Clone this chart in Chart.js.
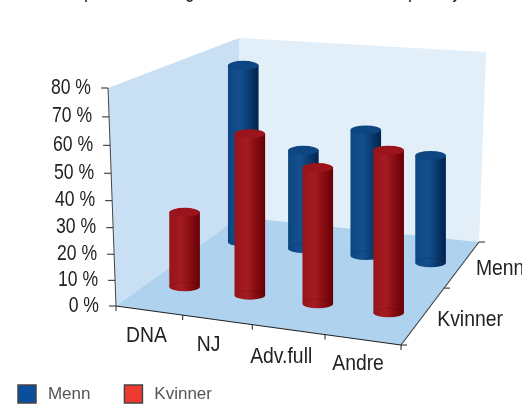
<!DOCTYPE html>
<html>
<head>
<meta charset="utf-8">
<script src="https://cdn.jsdelivr.net/npm/chart.js@4/dist/chart.umd.js"></script>
<style>
body { margin: 0; background: #fff; }
</style>
</head>
<body>
<canvas id="chart" width="522" height="406"></canvas>
<script>
// Data
const categories = ['DNA', 'NJ', 'Adv.full', 'Andre'];
const depthLabels = ['Kvinner', 'Menn'];
const menn = [73, 41, 51, 43];
const kvinner = [29, 60, 50, 58];

const LABEL_FONT = '22px "Liberation Sans", sans-serif';
const LABEL_COLOR = '#222';

// Floor corners on the page: front left, front right, back right, back left
const FLOOR = { A: [116, 306], B: [401, 345], C: [479, 242], D: [239, 217] };
const WALL_TOP = { A: [108, 88], C: [486, 52], D: [239, 38] };
const RADIUS_X = 15.3;
const RADIUS_Y = 4.5;
const FOOT_SHIFT = { x: 1.5, y: 2.5 };
// small hand adjustments of the category labels along the axis
const LABEL_NUDGE = [[3.5, 1], [-2.5, 1], [-1, 3], [1.5, 0]];

// Unit square (u along categories, w into the depth) -> floor
function buildFloorMap() {
    const [x0, y0] = FLOOR.A, [x1, y1] = FLOOR.B, [x2, y2] = FLOOR.C, [x3, y3] = FLOOR.D;
    const dx1 = x1 - x2, dx2 = x3 - x2, sx = x0 - x1 + x2 - x3;
    const dy1 = y1 - y2, dy2 = y3 - y2, sy = y0 - y1 + y2 - y3;
    const den = dx1 * dy2 - dx2 * dy1;
    const g = (sx * dy2 - dx2 * sy) / den;
    const h = (dx1 * sy - sx * dy1) / den;
    return (u, w) => {
        const d = g * u + h * w + 1;
        return {
            x: ((x1 - x0 + g * x1) * u + (x3 - x0 + h * x3) * w + x0) / d,
            y: ((y1 - y0 + g * y1) * u + (y3 - y0 + h * y3) * w + y0) / d,
            scale: 1 / d
        };
    };
}
const floorAt = buildFloorMap();

// The value axis is a little stretched towards the top of the wall
function rise(t) {
    return t / (1.07 - 0.07 * t);
}

function poly(ctx, pts, fill) {
    ctx.beginPath();
    pts.forEach((p, i) => i ? ctx.lineTo(p[0], p[1]) : ctx.moveTo(p[0], p[1]));
    ctx.closePath();
    ctx.fillStyle = fill;
    ctx.fill();
}

function line(ctx, x1, y1, x2, y2, color, width) {
    ctx.beginPath();
    ctx.moveTo(x1, y1);
    ctx.lineTo(x2, y2);
    ctx.strokeStyle = color;
    ctx.lineWidth = width;
    ctx.stroke();
}

// The reference uses a condensed face, so the text is squeezed sideways
function text(ctx, str, x, y, align, narrow) {
    ctx.save();
    ctx.translate(x, y);
    ctx.scale(narrow, 1);
    ctx.font = LABEL_FONT;
    ctx.textAlign = align;
    ctx.textBaseline = 'middle';
    ctx.fillStyle = LABEL_COLOR;
    ctx.fillText(str, 0, 0);
    ctx.restore();
}

// Walls, floor, axis lines and their labels
const framePlugin = {
    id: 'frame',
    beforeDatasetsDraw(chart) {
        const ctx = chart.ctx;
        const xs = chart.scales.x, ys = chart.scales.y;
        const { A, B, C, D } = FLOOR;
        ctx.save();

        // only the bottoms of the cut-off heading are left in the picture
        [['p', 89], ['g', 190], ['p', 413], ['y', 457]].forEach(([ch, x]) => {
            text(ctx, ch, x, -9, 'center', 0.8);
        });

        poly(ctx, [D, WALL_TOP.D, WALL_TOP.C, C], '#e2eff9');
        poly(ctx, [A, WALL_TOP.A, WALL_TOP.D, D], '#c9e0f4');
        poly(ctx, [A, B, C, D], '#afd2ef');

        // value axis on the front left edge
        line(ctx, A[0], A[1], WALL_TOP.A[0], WALL_TOP.A[1], '#444', 1);
        ys.ticks.forEach(tick => {
            const t = tick.value / ys.max;
            const y = A[1] - rise(t) * (A[1] - WALL_TOP.A[1]);
            const x = A[0] + (WALL_TOP.A[0] - A[0]) * rise(t);
            line(ctx, x - 7, y, x, y, '#222', 1);
            text(ctx, tick.label, x - 17, y - 0.5, 'right', 0.8);
        });

        // category axis on the front edge
        line(ctx, A[0], A[1], B[0], B[1], '#222', 1.2);
        categories.forEach((name, i) => {
            const left = (xs.getPixelForValue(i) - xs.left) / xs.width - 0.5 / categories.length;
            const tick = floorAt(left + 1 / categories.length, 0);
            line(ctx, tick.x, tick.y, tick.x, tick.y + 5, '#222', 1);
            const mid = floorAt(left + 0.5 / categories.length, 0);
            text(ctx, name, mid.x - 6 + LABEL_NUDGE[i][0], mid.y + 24 + LABEL_NUDGE[i][1], 'center', 0.88);
        });
        line(ctx, A[0], A[1], A[0], A[1] + 5, '#222', 1);

        // depth axis on the right edge
        line(ctx, B[0], B[1], C[0], C[1], '#444', 1.2);
        depthLabels.forEach((name, i) => {
            const tick = floorAt(1, i / depthLabels.length);
            line(ctx, tick.x, tick.y, tick.x + 6, tick.y, '#222', 1);
            const mid = floorAt(1, (i + 0.5) / depthLabels.length);
            text(ctx, name, mid.x + 13.5, mid.y + 5, 'left', 0.88);
        });
        line(ctx, C[0], C[1], C[0] + 6, C[1], '#222', 1);
        ctx.restore();
    },
    // Bars are drawn as standing cylinders from the elements that the bar controller laid out
    beforeDatasetDraw(chart, args) {
        const ctx = chart.ctx;
        const area = chart.chartArea;
        const ys = chart.scales.y;
        const ds = chart.data.datasets[args.index];
        const w = (depthLabels.indexOf(ds.label) + 0.5) / depthLabels.length;
        const shades = ds.cylinder;
        args.meta.data.forEach(el => {
            const foot = floorAt((el.x - area.left) / area.width, w);
            foot.x += FOOT_SHIFT.x;
            foot.y += FOOT_SHIFT.y;
            const t = (ys.bottom - el.y) / ys.height;
            const h = rise(t) * ys.height * foot.scale;
            const topY = foot.y - h;
            const left = foot.x - RADIUS_X, right = foot.x + RADIUS_X;

            const grad = ctx.createLinearGradient(left, 0, right, 0);
            grad.addColorStop(0, shades[0]);
            grad.addColorStop(0.4, shades[1]);
            grad.addColorStop(0.62, shades[2]);
            grad.addColorStop(1, shades[3]);

            ctx.save();
            ctx.beginPath();
            ctx.moveTo(left, topY);
            ctx.lineTo(left, foot.y);
            ctx.ellipse(foot.x, foot.y, RADIUS_X, RADIUS_Y, 0, Math.PI, 0, true);
            ctx.lineTo(right, topY);
            ctx.closePath();
            ctx.fillStyle = grad;
            ctx.fill();

            // rim of the foot
            ctx.beginPath();
            ctx.ellipse(foot.x, foot.y, RADIUS_X, RADIUS_Y, 0, Math.PI, 0, false);
            ctx.strokeStyle = 'rgba(0,0,0,0.12)';
            ctx.lineWidth = 1;
            ctx.stroke();

            ctx.beginPath();
            ctx.ellipse(foot.x, topY, RADIUS_X, RADIUS_Y, 0, 0, Math.PI * 2);
            ctx.fillStyle = shades[4];
            ctx.fill();
            ctx.restore();
        });
        return false;
    },
    // Legend goes to the bottom left corner, under the space of the frame
    afterLayout(chart) {
        chart.legend.left = -16;
        chart.legend.top = 351;
    }
};

new Chart(document.getElementById('chart'), {
    type: 'bar',
    data: {
        labels: categories,
        datasets: [{
            label: 'Menn',
            data: menn,
            order: 2,
            backgroundColor: '#0a4f9e',
            borderColor: '#444',
            borderWidth: 1.5,
            cylinder: ['#0e4780', '#13508f', '#0c4179', '#03214d', '#0d4680']
        }, {
            label: 'Kvinner',
            data: kvinner,
            order: 1,
            backgroundColor: '#ee3a30',
            borderColor: '#444',
            borderWidth: 1.5,
            cylinder: ['#95141a', '#a41c21', '#8f1015', '#660005', '#9c141b']
        }]
    },
    options: {
        responsive: false,
        animation: false,
        layout: { padding: { top: 88, right: 121, left: 0, bottom: 0 } },
        datasets: { bar: { grouped: false } },
        plugins: {
            tooltip: { enabled: false },
            legend: {
                position: 'bottom',
                align: 'start',
                labels: {
                    boxWidth: 18,
                    boxHeight: 18,
                    padding: 34,
                    color: '#555',
                    font: { family: '"Liberation Sans", sans-serif', size: 17 },
                    sort: (a, b) => a.datasetIndex - b.datasetIndex,
                    generateLabels: (chart) => Chart.defaults.plugins.legend.labels.generateLabels(chart)
                        .map(item => ({ ...item, text: '\u2009' + item.text }))
                }
            }
        },
        scales: {
            x: {
                grid: { display: false },
                border: { display: false },
                ticks: { display: false },
                afterFit: (scale) => { scale.height = 32; }
            },
            y: {
                min: 0,
                max: 80,
                grid: { display: false },
                border: { display: false },
                ticks: {
                    display: false,
                    stepSize: 10,
                    callback: (value) => `${value} %`
                },
                afterFit: (scale) => { scale.width = 116; }
            }
        }
    },
    plugins: [framePlugin]
});
</script>
</body>
</html>
